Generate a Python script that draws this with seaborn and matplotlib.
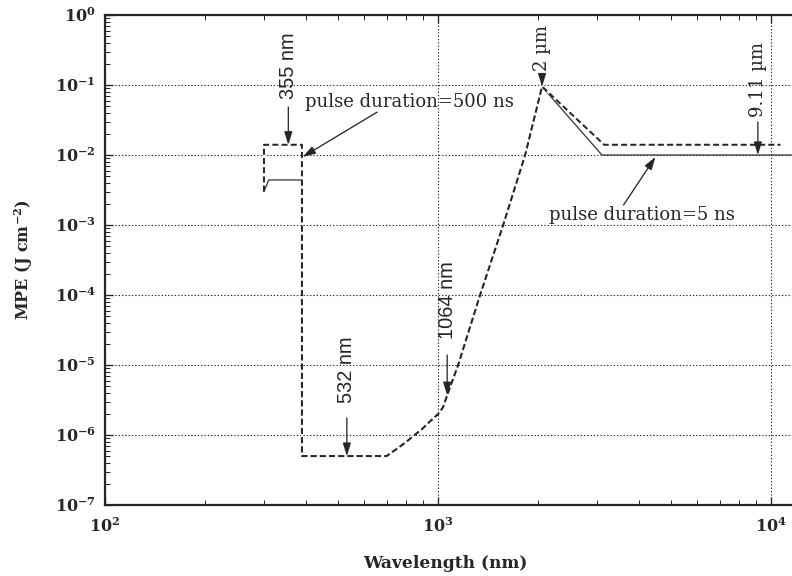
import numpy as np
import pandas as pd
import matplotlib
matplotlib.use("Agg")
import matplotlib.pyplot as plt
from matplotlib.ticker import LogLocator, FixedLocator, NullFormatter
import seaborn as sns

# MPE curve for 5 ns pulses (wavelength in nm, MPE in J cm^-2)
wl_5ns = [300, 310, 390, 390, 700, 750, 800, 850, 900, 950, 1000, 1035, 1064,
          1148, 1336, 1567, 1824, 2050, 3100, 12000]
mpe_5ns = [3.0e-3, 4.4e-3, 4.4e-3, 5.0e-7, 5.0e-7, 6.3e-7, 7.9e-7, 1.0e-6, 1.25e-6,
           1.6e-6, 2.0e-6, 2.5e-6, 3.7e-6, 1.0e-5, 1.0e-4, 1.0e-3, 1.0e-2, 9.5e-2,
           1.0e-2, 1.0e-2]

# MPE curve for 500 ns pulses
wl_500ns = [300, 300, 390, 390, 700, 750, 800, 850, 900, 950, 1000, 1035, 1064,
            1148, 1336, 1567, 1824, 2050, 3150, 10650]
mpe_500ns = [3.0e-3, 1.4e-2, 1.4e-2, 5.0e-7, 5.0e-7, 6.3e-7, 7.9e-7, 1.0e-6, 1.25e-6,
             1.6e-6, 2.0e-6, 2.5e-6, 3.7e-6, 1.0e-5, 1.0e-4, 1.0e-3, 1.0e-2, 9.5e-2,
             1.4e-2, 1.4e-2]

x_ticks = [1e2, 1e3, 1e4]
x_tick_labels = ["10$^{2}$", "10$^{3}$", "10$^{4}$"]
y_ticks = [1e-7, 1e-6, 1e-5, 1e-4, 1e-3, 1e-2, 1e-1, 1e0]
y_tick_labels = ["10$^{-7}$", "10$^{-6}$", "10$^{-5}$", "10$^{-4}$",
                 "10$^{-3}$", "10$^{-2}$", "10$^{-1}$", "10$^{0}$"]

# Marked laser lines: label, wavelength, MPE at arrow tip, arrow tail MPE, label MPE
line_labels = ["355 nm", "532 nm", "1064 nm", "2 µm", "9.11 µm"]
line_wl = [355, 532, 1064, 2050, 9110]
line_tip = [1.4e-2, 5.0e-7, 3.7e-6, 9.5e-2, 1.0e-2]
line_tail = [4.85e-2, 1.75e-6, 1.39e-5, 0.139, 2.96e-2]
line_text_y = [0.19, 8.5e-6, 8.5e-5, 0.34, 0.118]

ink = "#262626"

sns.set_theme(style="white")
plt.rcParams["font.family"] = ["DejaVu Serif"]
plt.rcParams["mathtext.fontset"] = "custom"
plt.rcParams["mathtext.rm"] = "DejaVu Serif:bold"
plt.rcParams["mathtext.bf"] = "DejaVu Serif:bold"
plt.rcParams["mathtext.default"] = "rm"

fig = plt.figure(figsize=(11, 8), dpi=72)
fig.patch.set_facecolor("white")
# axes run past the right edge of the figure (x up to 10^4.2)
ax = fig.add_axes([105 / 792, 71 / 576, 733 / 792, 490 / 576])
ax.set_facecolor("white")

df5 = pd.DataFrame({"wl": wl_5ns, "mpe": mpe_5ns})
df500 = pd.DataFrame({"wl": wl_500ns, "mpe": mpe_500ns})

sns.lineplot(data=df5, x="wl", y="mpe", sort=False, estimator=None, ax=ax,
             color="#3a3a3a", linewidth=1.3, zorder=3)
sns.lineplot(data=df500, x="wl", y="mpe", sort=False, estimator=None, ax=ax,
             color=ink, linewidth=2.0, zorder=4, dashes=False)
dashed = ax.lines[-1]
dashed.set_linestyle((0, (3.0, 1.6)))
dashed.set_gapcolor("white")

ax.set_xscale("log")
ax.set_yscale("log")
ax.set_xlim(1e2, 10 ** 4.2)
ax.set_ylim(1e-7, 1e0)

ax.xaxis.set_major_locator(FixedLocator(x_ticks))
ax.yaxis.set_major_locator(FixedLocator(y_ticks))
ax.xaxis.set_minor_locator(LogLocator(base=10, subs=np.arange(2, 10)))
ax.yaxis.set_minor_locator(LogLocator(base=10, subs=np.arange(2, 10)))
ax.xaxis.set_minor_formatter(NullFormatter())
ax.yaxis.set_minor_formatter(NullFormatter())
ax.set_xticklabels(x_tick_labels, fontsize=16, fontweight="bold", color=ink)
ax.set_yticklabels(y_tick_labels, fontsize=16, fontweight="bold", color=ink)

ax.tick_params(which="both", direction="in", top=True, right=True,
               bottom=True, left=True, color=ink)
ax.tick_params(which="major", length=8, width=1.3, pad=9)
ax.tick_params(which="minor", length=5, width=1.0)
ax.tick_params(axis="x", which="major", pad=12)

ax.grid(which="major", linestyle=(0, (1.2, 1.8)), color=ink, linewidth=1.1)
ax.set_axisbelow(True)
for side in ["left", "bottom", "top", "right"]:
    ax.spines[side].set_color(ink)
    ax.spines[side].set_linewidth(2.2)

ax.set_xlabel("Wavelength (nm)", fontsize=17, fontweight="bold", color=ink)
ax.xaxis.set_label_coords((445 - 105) / 733, -0.102)
ax.set_ylabel("MPE (J cm$^{-2}$)", fontsize=16, fontweight="bold", color=ink)
ax.yaxis.set_label_coords(-0.096, 0.5)

arrow = dict(arrowstyle="-|>,head_length=0.9,head_width=0.28", color=ink,
             lw=1.3, shrinkA=0, shrinkB=0)

for lab, wl, tip, tail, ty in zip(line_labels, line_wl, line_tip, line_tail, line_text_y):
    ax.annotate("", xy=(wl, tip), xytext=(wl, tail), arrowprops=arrow, zorder=6)
    if "nm" in lab:
        fam, size = ["Liberation Sans"], 20
    else:
        fam, size = ["DejaVu Serif"], 18
    ax.text(wl, ty, lab, rotation=90, ha="center", va="center", fontsize=size,
            family=fam, color=ink, zorder=6)

ax.text(398, 5.7e-2, "pulse duration=500 ns", fontsize=18, color=ink,
        ha="left", va="center", zorder=6)
ax.annotate("", xy=(392, 9.4e-3), xytext=(656, 4.1e-2), arrowprops=arrow, zorder=6)

ax.text(4100, 1.39e-3, "pulse duration=5 ns", fontsize=18, color=ink,
        ha="center", va="center", zorder=6)
ax.annotate("", xy=(4490, 9.4e-3), xytext=(3600, 1.93e-3), arrowprops=arrow, zorder=6)

fig.savefig("out.png", dpi=72, facecolor="white")
